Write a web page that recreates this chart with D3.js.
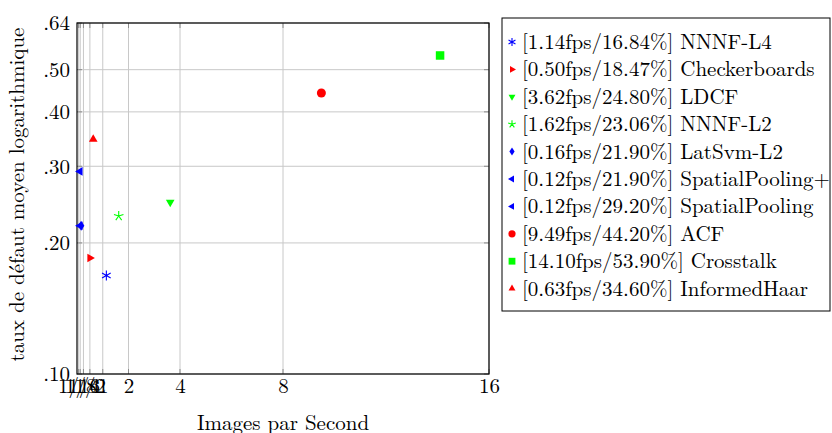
<!DOCTYPE html>
<html>
<head>
<meta charset="utf-8">
<script src="https://cdn.jsdelivr.net/npm/d3@7"></script>
<style>
  body { margin: 0; background: #fff; }
  .grid line { stroke: #c8c8c8; stroke-width: 1; }
</style>
</head>
<body>
<div id="chart"></div>
<script>
// detector speed (fps) vs log-average miss rate
const methods = ["NNNF-L4", "Checkerboards", "LDCF", "NNNF-L2", "LatSvm-L2",
  "SpatialPooling+", "SpatialPooling", "ACF", "Crosstalk", "InformedHaar"];
const fps = [1.14, 0.50, 3.62, 1.62, 0.16, 0.12, 0.12, 9.49, 14.10, 0.63];
const missRate = [16.84, 18.47, 24.80, 23.06, 21.90, 21.90, 29.20, 44.20, 53.90, 34.60];
const markers = ["asterisk", "triRight", "triDown", "star", "diamond",
  "triLeft", "triLeft", "circle", "square", "triUp"];
const colors = ["#0000ff", "#ff0000", "#00ff00", "#00ff00", "#0000ff",
  "#0000ff", "#0000ff", "#ff0000", "#00ff00", "#ff0000"];

const xTicks = [1/16, 1/8, 1/4, 1/2, 1, 2, 4, 8, 16];
const xTickLabels = ["1/16", "1/8", "1/4", "1/2", "1", "2", "4", "8", "16"];
const yTicks = [0.10, 0.20, 0.30, 0.40, 0.50, 0.64];
const yTickLabels = [".10", ".20", ".30", ".40", ".50", ".64"];

const FONT = '"Latin Modern Roman", "Liberation Serif", serif';
const W = 832, H = 433;
const M = { top: 23, right: 343, bottom: 59, left: 77 };
const iw = W - M.left - M.right, ih = H - M.top - M.bottom;

const svg = d3.select("#chart").append("svg").attr("width", W).attr("height", H)
  .style("font-family", FONT);
const g = svg.append("g").attr("transform", `translate(${M.left},${M.top})`);

const x = d3.scaleLinear().domain([0, 16]).range([0, iw]);
const y = d3.scaleLog().domain([0.10, 0.64]).range([ih, 0]);

// grid
const grid = g.append("g").attr("class", "grid");
grid.selectAll("line.vx").data(xTicks).enter().append("line")
  .attr("x1", d => x(d)).attr("x2", d => x(d)).attr("y1", 0).attr("y2", ih);
grid.selectAll("line.hy").data(yTicks).enter().append("line")
  .attr("y1", d => y(d)).attr("y2", d => y(d)).attr("x1", 0).attr("x2", iw);

// inner ticks (gray, pgfplots style)
const tk = g.append("g").attr("stroke", "#8c8c8c").attr("stroke-width", 1);
xTicks.forEach(t => {
  tk.append("line").attr("x1", x(t)).attr("x2", x(t)).attr("y1", ih).attr("y2", ih - 5);
  tk.append("line").attr("x1", x(t)).attr("x2", x(t)).attr("y1", 0).attr("y2", 5);
});
yTicks.forEach(t => {
  tk.append("line").attr("y1", y(t)).attr("y2", y(t)).attr("x1", 0).attr("x2", 5);
  tk.append("line").attr("y1", y(t)).attr("y2", y(t)).attr("x1", iw).attr("x2", iw - 5);
});

// frame
g.append("rect").attr("width", iw).attr("height", ih)
  .attr("fill", "none").attr("stroke", "#000").attr("stroke-width", 1.2);

// axis labels
const xAxis = d3.axisBottom(x).tickValues(xTicks)
  .tickFormat((d, i) => xTickLabels[i]).tickSize(0).tickPadding(4);
const gx = g.append("g").attr("transform", `translate(0,${ih})`).call(xAxis);
gx.select(".domain").remove();
gx.attr("font-family", null).attr("font-size", null);
gx.selectAll("text").style("font-size", "21px").style("font-family", FONT).attr("fill", "#000");

const yAxis = d3.axisLeft(y).tickValues(yTicks)
  .tickFormat((d, i) => yTickLabels[i]).tickSize(0).tickPadding(7);
const gy = g.append("g").call(yAxis);
gy.select(".domain").remove();
gy.attr("font-family", null).attr("font-size", null);
gy.selectAll("text").style("font-size", "21px").style("font-family", FONT).attr("fill", "#000");

svg.append("text").attr("x", M.left + x(8)).attr("y", 430)
  .attr("text-anchor", "middle").style("font-size", "21px").text("Images par Second");
svg.append("text").attr("transform", `translate(24,${M.top + ih / 2 - 4}) rotate(-90)`)
  .attr("text-anchor", "middle").style("font-size", "21px")
  .text("taux de défaut moyen logarithmique");

// marker shapes
function drawMarker(sel, type, color, s) {
  const tri = (a) => {
    const pts = [0, 120, 240].map(k => {
      const r = (a + k) * Math.PI / 180;
      return [Math.cos(r) * s, -Math.sin(r) * s];
    });
    return "M" + pts.map(p => p.join(",")).join("L") + "Z";
  };
  if (type === "triUp") sel.append("path").attr("d", tri(90)).attr("fill", color);
  else if (type === "triDown") sel.append("path").attr("d", tri(-90)).attr("fill", color);
  else if (type === "triLeft") sel.append("path").attr("d", tri(180)).attr("fill", color);
  else if (type === "triRight") sel.append("path").attr("d", tri(0)).attr("fill", color);
  else if (type === "circle") sel.append("circle").attr("r", s * 0.9).attr("fill", color);
  else if (type === "square") sel.append("rect").attr("x", -s * 0.85).attr("y", -s * 0.85)
    .attr("width", s * 1.7).attr("height", s * 1.7).attr("fill", color);
  else if (type === "diamond") sel.append("path")
    .attr("d", `M0,${-s}L${s * 0.65},0L0,${s}L${-s * 0.65},0Z`).attr("fill", color);
  else if (type === "asterisk") {
    const p = [90, 30, -30].map(a => {
      const r = a * Math.PI / 180, c = Math.cos(r) * s, d = Math.sin(r) * s;
      return `M${c},${-d}L${-c},${d}`;
    }).join("");
    sel.append("path").attr("d", p).attr("stroke", color).attr("stroke-width", 1.1).attr("fill", "none");
  } else if (type === "star") {
    const p = [90, 162, 234, 306, 18].map(a => {
      const r = a * Math.PI / 180;
      return `M0,0L${Math.cos(r) * s},${-Math.sin(r) * s}`;
    }).join("");
    sel.append("path").attr("d", p).attr("stroke", color).attr("stroke-width", 1.1).attr("fill", "none");
  }
}

const pts = g.append("g");
methods.forEach((m, i) => {
  const p = pts.append("g").attr("transform", `translate(${x(fps[i])},${y(missRate[i] / 100)})`);
  drawMarker(p, markers[i], colors[i], 5);
});

// legend
const lg = svg.append("g").attr("transform", "translate(502,18)");
lg.append("rect").attr("width", 328).attr("height", 293)
  .attr("fill", "#fff").attr("stroke", "#000").attr("stroke-width", 1);
methods.forEach((m, i) => {
  const row = lg.append("g").attr("transform", `translate(0,${24 + i * 27.4})`);
  drawMarker(row.append("g").attr("transform", "translate(10,0)"), markers[i], colors[i], 4);
  row.append("text").attr("x", 20).attr("y", 7).style("font-size", "21px")
    .text(`[${fps[i].toFixed(2)}fps/${missRate[i].toFixed(2)}%] ${m}`);
});
</script>
</body>
</html>
